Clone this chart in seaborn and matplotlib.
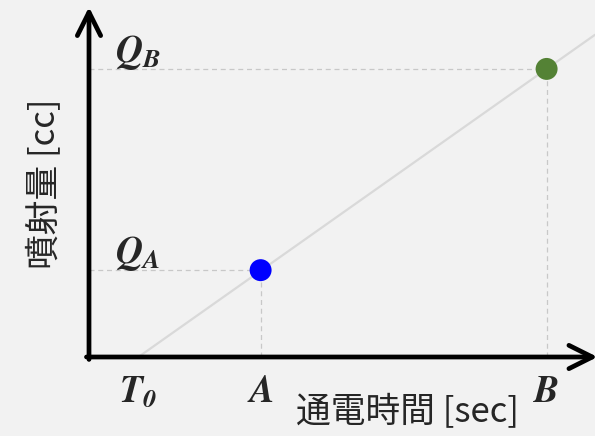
import matplotlib
matplotlib.use('Agg')
import matplotlib.pyplot as plt
import seaborn as sns
import pandas as pd

# ---- data ----
t_zero = 0.95
point_names = ['A', 'B']
times = [3.3, 8.8]
amounts = [1.67, 5.54]
point_colors = ['#0000ff', '#548235']
x_tick_labels = [r'$\mathbfit{T}_{\mathbfit{0}}$', r'$\mathbfit{A}$', r'$\mathbfit{B}$']
q_labels = [r'$\mathbfit{Q}_{\mathbfit{A}}$', r'$\mathbfit{Q}_{\mathbfit{B}}$']
x_label = '通電時間 [sec]'
y_label = '噴射量 [cc]'

sns.set_theme(style='white')
plt.rcParams['font.family'] = ['Noto Sans CJK JP', 'DejaVu Sans']
plt.rcParams['mathtext.fontset'] = 'stix'

bg = '#f2f2f2'
fig = plt.figure(figsize=(5.95, 4.36), dpi=100, facecolor=bg)
ax = fig.add_axes([89 / 595, 79 / 436, 506 / 595, 350 / 436])
ax.set_facecolor(bg)
ax.set_xlim(0, 506 / 52)
ax.set_ylim(0, 350 / 52)
for s in ax.spines.values():
    s.set_visible(False)

# proportional line
ax.axline((t_zero, 0), (times[1], amounts[1]), color='#d9d9d9', lw=1.6, zorder=1)

# guide lines
for t, q in zip(times, amounts):
    ax.plot([0, t], [q, q], ls=(0, (4, 3)), color='#c8c8c8', lw=0.9, zorder=1)
    ax.plot([t, t], [0, q], ls=(0, (4, 3)), color='#c8c8c8', lw=0.9, zorder=1)

df = pd.DataFrame({'time': times, 'amount': amounts, 'name': point_names})
sns.scatterplot(data=df, x='time', y='amount', hue='name', palette=point_colors,
                s=250, edgecolor='none', legend=False, ax=ax, zorder=3)

# axes arrows
arrow = dict(arrowstyle='->,head_length=0.42,head_width=0.21', lw=3.4, color='black',
             shrinkA=0, shrinkB=0, mutation_scale=40)
ax.annotate('', xy=(0, 1), xytext=(0, -0.007), xycoords='axes fraction',
            arrowprops=arrow, annotation_clip=False)
ax.annotate('', xy=(1.005, 0), xytext=(-0.005, 0), xycoords='axes fraction',
            arrowprops=arrow, annotation_clip=False)

ax.set_xticks([t_zero] + times, labels=x_tick_labels)
ax.set_yticks([])
ax.tick_params(axis='x', length=0, pad=11, labelsize=27)

for q, lab in zip(amounts, q_labels):
    ax.text(0.5, q + 0.14, lab, fontsize=27, ha='left', va='baseline')

ax.set_xlabel(x_label, fontsize=25, va='center')
ax.xaxis.set_label_coords((407 - 89) / 506, (357 - 413) / 350)
ax.set_ylabel(y_label, fontsize=25, va='center')
ax.yaxis.set_label_coords((46 - 89) / 506, (357 - 184) / 350)

fig.savefig('out.png', dpi=100, facecolor=bg)
